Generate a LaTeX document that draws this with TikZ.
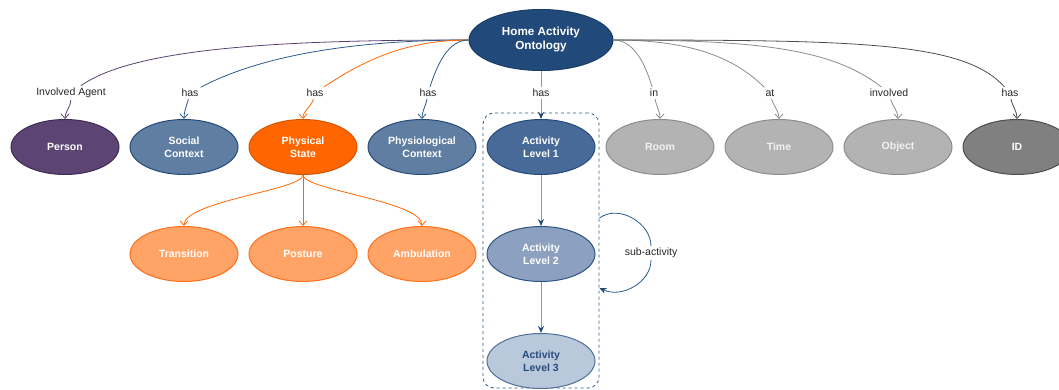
\documentclass[tikz,border=0pt]{standalone}
\usepackage{fontspec}
\setmainfont{Liberation Sans}
\usetikzlibrary{arrows.meta,shapes.geometric}
\definecolor{topfill}{HTML}{21497A}
\definecolor{topdraw}{HTML}{183A66}
\definecolor{purfill}{HTML}{5C4573}
\definecolor{purdraw}{HTML}{3F2B56}
\definecolor{bluefill}{HTML}{5F7EA2}
\definecolor{bluedraw}{HTML}{24497A}
\definecolor{orfill}{HTML}{FF6600}
\definecolor{ordraw}{HTML}{D45500}
\definecolor{lorfill}{HTML}{FFA466}
\definecolor{lordraw}{HTML}{FF6F1A}
\definecolor{aonefill}{HTML}{486A98}
\definecolor{atwofill}{HTML}{8BA1BF}
\definecolor{atwodraw}{HTML}{2F5383}
\definecolor{athreefill}{HTML}{BAC8DB}
\definecolor{athreedraw}{HTML}{4F6F9A}
\definecolor{athreetext}{HTML}{274B7D}
\definecolor{grayfill}{HTML}{B3B3B3}
\definecolor{graydraw}{HTML}{8C8C8C}
\definecolor{idfill}{HTML}{808080}
\definecolor{iddraw}{HTML}{4D4D4D}
\definecolor{epurple}{HTML}{5A4270}
\definecolor{eblue}{HTML}{2B5A8C}
\definecolor{egray}{HTML}{8C8C8C}
\definecolor{eid}{HTML}{4D4D4D}
\definecolor{elight}{HTML}{7E9CC3}
\definecolor{enavy}{HTML}{23497A}
\definecolor{lbltext}{HTML}{262626}
\newcommand{\nodefnt}{\fontsize{10.5}{13}\selectfont\bfseries}
\tikzset{
  ell/.style={ellipse, draw, line width=1pt, inner sep=0pt, minimum width=108pt,
    minimum height=55pt, align=center, font=\nodefnt, text=white},
  lbl/.style={inner sep=2pt, font=\fontsize{10.5}{12}\selectfont, text=lbltext},
  edge/.style={line width=0.8pt, -{Straight Barb[length=4.5pt,width=8pt]}},
  sedge/.style={line width=0.8pt, -{Stealth[length=7pt,width=6pt,color=enavy]}},
  grpbox/.style={draw=eblue, dashed, line width=0.8pt, rounded corners=11pt,
    minimum width=116pt, minimum height=275pt, inner sep=0pt},
}
\begin{document}
\begin{tikzpicture}[x=1pt,y=1pt]
\useasboundingbox (0,0) rectangle (1059,-390);

% group container
\node[grpbox] (grp) at (541,-250.5) {};

% top node
\node[ell, fill=topfill, draw=topdraw, minimum width=144pt, minimum height=61pt,
  font=\fontsize{11.7}{14}\selectfont\bfseries] (top) at (541,-40) {Home Activity\\Ontology};

% row 1
\node[ell, fill=purfill, draw=purdraw] (person) at (65,-147) {Person};
\node[ell, fill=bluefill, draw=bluedraw] (social) at (184,-147) {Social\\Context};
\node[ell, fill=orfill, draw=ordraw] (phys) at (303,-147) {Physical\\State};
\node[ell, fill=bluefill, draw=bluedraw] (physio) at (422,-147) {Physiological\\Context};
\node[ell, fill=aonefill, draw=bluedraw] (aone) at (541,-147) {Activity\\Level 1};
\node[ell, fill=grayfill, draw=graydraw, text=white!95!black] (room) at (660,-147) {Room};
\node[ell, fill=grayfill, draw=graydraw, text=white!95!black] (time) at (779,-147) {Time};
\node[ell, fill=grayfill, draw=graydraw, text=white!95!black] (object) at (898,-147) {Object};
\node[ell, fill=idfill, draw=iddraw] (id) at (1017,-147) {ID};

% row 2
\node[ell, fill=lorfill, draw=lordraw] (trans) at (184,-254) {Transition};
\node[ell, fill=lorfill, draw=lordraw] (posture) at (303,-254) {Posture};
\node[ell, fill=lorfill, draw=lordraw] (amb) at (422,-254) {Ambulation};
\node[ell, fill=atwofill, draw=atwodraw] (atwo) at (541,-254) {Activity\\Level 2};
\node[ell, fill=athreefill, draw=athreedraw, text=athreetext] (athree) at (541,-361) {Activity\\Level 3};

% labels
\node[lbl] (tAgent) at (71,-93) {Involved Agent};
\node[lbl] (tSoc) at (190,-93) {has};
\node[lbl] (tPhys) at (315,-93) {has};
\node[lbl] (tPhysio) at (428,-93) {has};
\node[lbl] (tAct) at (541,-93) {has};
\node[lbl] (tRoom) at (654,-93) {in};
\node[lbl] (tTime) at (770,-93) {at};
\node[lbl] (tObj) at (889,-93) {involved};
\node[lbl] (tId) at (1010,-93) {has};
\node[lbl] (tSub) at (651,-253) {sub-activity};

% top edges, left side
\draw[edge, draw=epurple] (top.west) to[out=180,in=36,out distance=160pt,in distance=70pt] (tAgent)
  to[out=-92,in=90] (person);
\draw[edge, draw=eblue] (top.west) to[out=180,in=28,out distance=110pt,in distance=70pt] (tSoc)
  to[out=-105,in=90] (social);
\draw[edge, draw=orfill] (top.west) to[out=180,in=34,out distance=60pt,in distance=50pt] (tPhys)
  to[out=-105,in=90] (phys);
\draw[edge, draw=eblue] (top.west) to[out=180,in=72,out distance=20pt,in distance=25pt] (tPhysio)
  to[out=-100,in=90] (physio);
% activity
\draw[sedge, draw=elight] (top) -- (tAct) -- (aone);
% right side
\draw[edge, draw=egray] (top.east) to[out=0,in=107,out distance=20pt,in distance=25pt] (tRoom)
  to[out=-80,in=90] (room);
\draw[edge, draw=egray] (top.east) to[out=0,in=135,out distance=80pt,in distance=40pt] (tTime)
  to[out=-75,in=90] (time);
\draw[edge, draw=egray] (top.east) to[out=0,in=142,out distance=150pt,in distance=60pt] (tObj)
  to[out=-75,in=90] (object);
\draw[edge, draw=eid] (top.east) to[out=0,in=132,out distance=250pt,in distance=60pt] (tId)
  to[out=-80,in=90] (id);

% physical state children
\draw[edge, draw=orfill] (phys.south) to[out=-90,in=90,out distance=15pt,in distance=25pt] (trans.north);
\draw[edge, draw=orfill] (phys) -- (posture);
\draw[edge, draw=orfill] (phys.south) to[out=-90,in=90,out distance=15pt,in distance=25pt] (amb.north);

% activity chain
\draw[sedge, draw=elight] (aone) -- (atwo);
\draw[sedge, draw=elight] (atwo) -- (athree);

% sub-activity loop
\coordinate (ls) at ([yshift=32.5pt]grp.east);
\coordinate (le) at ([yshift=-37.5pt]grp.east);
\draw[line width=0.8pt, draw=eblue] (ls) to[out=35,in=90,out distance=25pt,in distance=22pt] (tSub);
\draw[sedge, draw=eblue] (tSub) to[out=-90,in=-25,out distance=22pt,in distance=25pt] (le);
\end{tikzpicture}
\end{document}
